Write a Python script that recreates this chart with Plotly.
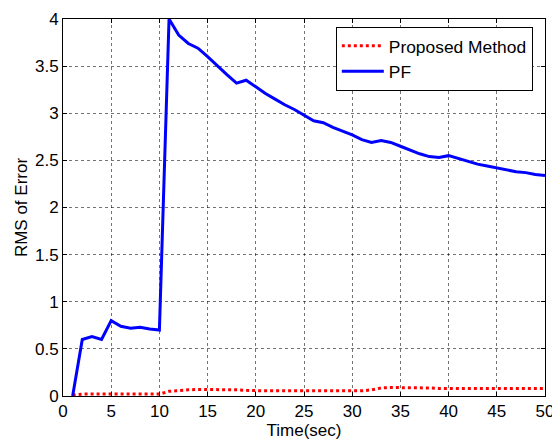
import plotly.graph_objects as go

time_sec = list(range(1, 51))
pf_rms = [0.0, 0.60, 0.63, 0.60, 0.80, 0.74, 0.72, 0.73, 0.71, 0.70,
          4.00, 3.83, 3.74, 3.69, 3.60, 3.50, 3.41, 3.32, 3.35, 3.28,
          3.21, 3.15, 3.09, 3.04, 2.98, 2.92, 2.90, 2.85, 2.81, 2.77,
          2.72, 2.69, 2.71, 2.69, 2.65, 2.61, 2.57, 2.54, 2.53, 2.55,
          2.52, 2.49, 2.46, 2.44, 2.42, 2.40, 2.38, 2.37, 2.35, 2.34]
proposed_rms = [0.01, 0.02, 0.02, 0.02, 0.02, 0.02, 0.02, 0.02, 0.02, 0.02,
                0.05, 0.06, 0.065, 0.07, 0.07, 0.07, 0.07, 0.065, 0.06, 0.055,
                0.055, 0.055, 0.055, 0.055, 0.055, 0.055, 0.055, 0.055, 0.055, 0.055,
                0.055, 0.065, 0.085, 0.09, 0.09, 0.09, 0.09, 0.085, 0.08, 0.08,
                0.08, 0.08, 0.08, 0.08, 0.08, 0.08, 0.08, 0.08, 0.08, 0.08]
x_ticks = [0, 5, 10, 15, 20, 25, 30, 35, 40, 45, 50]
y_ticks = [0, 0.5, 1, 1.5, 2, 2.5, 3, 3.5, 4]
y_tick_labels = ["0", "0.5", "1", "1.5", "2", "2.5", "3", "3.5", "4"]

fig = go.Figure()
fig.add_trace(go.Scatter(x=time_sec, y=proposed_rms, mode="lines", name="Proposed Method",
                         line=dict(color="#ff0000", width=3, dash="dot")))
fig.add_trace(go.Scatter(x=time_sec, y=pf_rms, mode="lines", name="PF",
                         line=dict(color="#0000ff", width=3)))

font_family = "Liberation Sans, Arial, sans-serif"
fs_tick = 17
fs_text = 17
axis_common = dict(
    showline=True, linecolor="black", linewidth=1, mirror="allticks",
    ticks="inside", ticklen=4, tickcolor="black",
    showgrid=True, gridcolor="rgba(0,0,0,0.55)", griddash="dot", gridwidth=1,
    zeroline=False, automargin=False,
    tickfont=dict(family=font_family, size=fs_tick, color="black"),
)
fig.update_layout(
    width=552, height=442,
    margin=dict(l=63, r=7, t=19, b=46),
    paper_bgcolor="white", plot_bgcolor="white",
    font=dict(family=font_family, color="black"),
    showlegend=True,
    legend=dict(x=0.566, y=0.979, xanchor="left", yanchor="top",
                bgcolor="white", bordercolor="black", borderwidth=1,
                font=dict(family=font_family, size=17.4, color="black"),
                tracegroupgap=0, itemwidth=42),
    xaxis=dict(range=[-0.0001, 50.0001], tickvals=x_ticks, ticklabeloverflow="allow",
               title=dict(text="Time(sec)", font=dict(size=fs_text, family=font_family), standoff=1),
               **axis_common),
    yaxis=dict(range=[0, 4], tickvals=y_ticks, ticktext=y_tick_labels,
               title=dict(text="RMS of Error", font=dict(size=fs_text, family=font_family), standoff=3),
               **axis_common),
)
fig.write_html("out.html")
